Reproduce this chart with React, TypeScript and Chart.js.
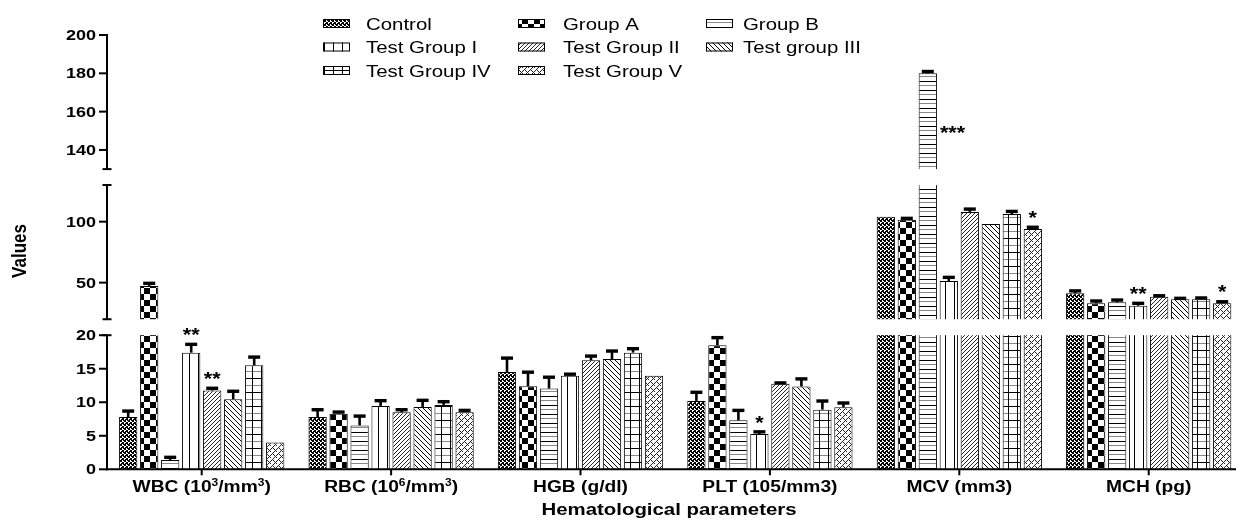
import React, { useEffect, useRef } from 'react';
import { Chart, LinearScale, registerables } from 'chart.js';

Chart.register(...registerables);

// ---------------- data ----------------
const categories = ['WBC (10^3/mm^3)', 'RBC (10^6/mm^3)', 'HGB (g/dl)', 'PLT (105/mm3)', 'MCV (mm3)', 'MCH (pg)'];
const seriesNames = ['Control', 'Group A', 'Group B', 'Test Group I', 'Test Group II', 'Test group III', 'Test Group IV', 'Test Group V'];

const controlValues = [7.8, 7.8, 14.5, 10.2, 104, 41.3];
const controlErrors = [0.9, 1.1, 2.1, 1.3, 0, 2.0];
const groupAValues = [47.3, 8.3, 12.4, 18.5, 101.5, 33.1];
const groupAErrors = [2.2, 0.25, 2.1, 1.15, 1.3, 1.9];
const groupBValues = [1.4, 6.55, 12.05, 7.3, 180, 33.9];
const groupBErrors = [0.4, 1.4, 1.7, 1.5, 1.0, 1.9];
const testGroup1Values = [17.4, 9.45, 13.95, 5.25, 51.4, 31.1];
const testGroup1Errors = [1.25, 0.8, 0.25, 0.35, 3.0, 2.0];
const testGroup2Values = [11.75, 8.5, 16.25, 12.75, 108, 38.5];
const testGroup2Errors = [0.35, 0.4, 0.65, 0.15, 2.4, 0.8];
const testGroup3Values = [10.45, 9.3, 16.45, 12.35, 98, 36.4];
const testGroup3Errors = [1.2, 1.0, 1.2, 1.15, 0, 0.8];
const testGroup4Values = [15.5, 9.6, 17.4, 8.9, 106.3, 36.4];
const testGroup4Errors = [1.25, 0.5, 0.6, 1.3, 2.2, 1.1];
const testGroup5Values = [4.0, 8.5, 13.95, 9.25, 94, 33.1];
const testGroup5Errors = [0, 0.3, 0, 0.65, 1.5, 1.3];

// significance marks: series index, category index, mark
const significance = [
  { series: 3, category: 0, mark: '**' },
  { series: 4, category: 0, mark: '**' },
  { series: 3, category: 3, mark: '*' },
  { series: 2, category: 4, mark: '***' },
  { series: 7, category: 4, mark: '*' },
  { series: 3, category: 5, mark: '**' },
  { series: 7, category: 5, mark: '*' },
];

// broken y axis: segments [0,20], [20,130], [130,200]
const yBreaks = [0, 20, 130, 200];
const yTickValues = [0, 5, 10, 15, 20, 50, 100, 140, 160, 180, 200];

const xTitle = 'Hematological parameters';
const yTitle = 'Values';

// ---------------- style ----------------
const SEG_GAP = 16;
const FONT = '"Liberation Sans", Arial, Helvetica, sans-serif';
const SX = 1.2; // horizontal text stretch of the original figure

const seriesValues = [controlValues, groupAValues, groupBValues, testGroup1Values, testGroup2Values, testGroup3Values, testGroup4Values, testGroup5Values];
const seriesErrors = [controlErrors, groupAErrors, groupBErrors, testGroup1Errors, testGroup2Errors, testGroup3Errors, testGroup4Errors, testGroup5Errors];

function segGeom(scale: any) {
  const n = yBreaks.length - 1;
  const h = (scale.bottom - scale.top - SEG_GAP * (n - 1)) / n;
  return { n, h };
}

class BrokenLinearScale extends LinearScale {
  static id = 'brokenLinear';
  static defaults = LinearScale.defaults;
  getPixelForValue(value: number): number {
    if (value === null || value === undefined || isNaN(value)) return NaN;
    const { n, h } = segGeom(this);
    let i = 0;
    while (i < n - 1 && value > yBreaks[i + 1]) i++;
    const lo = yBreaks[i];
    const hi = yBreaks[i + 1];
    return (this as any).bottom - i * (h + SEG_GAP) - ((value - lo) / (hi - lo)) * h;
  }
  getValueForPixel(pixel: number): number {
    const { n, h } = segGeom(this);
    const fromBottom = (this as any).bottom - pixel;
    let i = Math.floor(fromBottom / (h + SEG_GAP));
    i = Math.max(0, Math.min(n - 1, i));
    const t = (fromBottom - i * (h + SEG_GAP)) / h;
    return yBreaks[i] + t * (yBreaks[i + 1] - yBreaks[i]);
  }
}
Chart.register(BrokenLinearScale);

function makePattern(target: CanvasRenderingContext2D, w: number, h: number, draw: (c: CanvasRenderingContext2D) => void) {
  const c = document.createElement('canvas');
  c.width = w;
  c.height = h;
  const x = c.getContext('2d')!;
  x.fillStyle = '#fff';
  x.fillRect(0, 0, w, h);
  x.fillStyle = '#000';
  draw(x);
  return target.createPattern(c, 'repeat')!;
}

function buildPatterns(ctx: CanvasRenderingContext2D) {
  const px = (c: CanvasRenderingContext2D, pts: number[][], color = '#000') => {
    c.fillStyle = color;
    pts.forEach(([a, b]) => c.fillRect(a, b, 1, 1));
  };
  return [
    // Control: fine dense check
    makePattern(ctx, 4, 4, (c) => {
      c.fillRect(0, 0, 2, 2);
      c.fillRect(2, 2, 2, 2);
      c.fillRect(3, 0, 1, 1);
      c.fillRect(1, 3, 1, 1);
    }),
    // Group A: large checker
    makePattern(ctx, 12, 12, (c) => {
      c.fillRect(0, 0, 6, 6);
      c.fillRect(6, 6, 6, 6);
    }),
    // Group B: horizontal lines
    makePattern(ctx, 4, 9, (c) => {
      c.fillStyle = '#000';
      c.fillRect(0, 0, 4, 1);
      c.fillStyle = '#888';
      c.fillRect(0, 4, 4, 1);
    }),
    // Test Group I: vertical lines
    makePattern(ctx, 9, 4, (c) => {
      c.fillRect(0, 0, 1, 4);
    }),
    // Test Group II: "/" diagonal
    makePattern(ctx, 4, 4, (c) => px(c, [[3, 0], [2, 1], [1, 2], [0, 3]], '#222')),
    // Test group III: "\" diagonal
    makePattern(ctx, 5, 5, (c) => px(c, [[0, 0], [1, 1], [2, 2], [3, 3], [4, 4]])),
    // Test Group IV: grid
    makePattern(ctx, 9, 14, (c) => {
      c.fillStyle = '#000';
      c.fillRect(0, 0, 1, 14);
      c.fillRect(0, 0, 9, 1);
      c.fillStyle = '#888';
      c.fillRect(1, 7, 8, 1);
    }),
    // Test Group V: zig-zag cross hatch
    makePattern(ctx, 6, 6, (c) => px(c, [[5, 0], [4, 1], [3, 2], [2, 3], [1, 4], [0, 5], [3, 4], [4, 5], [0, 1]], '#222')),
  ];
}

function drawRich(ctx: CanvasRenderingContext2D, text: string, x: number, y: number, size: number, weight: string, align: 'left' | 'center' | 'right', sx = SX) {
  const parts: { t: string; sup: boolean }[] = [];
  let buf = '';
  for (let i = 0; i < text.length; i++) {
    if (text[i] === '^' && i + 1 < text.length) {
      if (buf) parts.push({ t: buf, sup: false });
      buf = '';
      parts.push({ t: text[i + 1], sup: true });
      i++;
    } else buf += text[i];
  }
  if (buf) parts.push({ t: buf, sup: false });
  const supSize = Math.round(size * 0.65);
  const font = (s: number) => `${weight} ${s}px ${FONT}`;
  let W = 0;
  const widths = parts.map((p) => {
    ctx.font = font(p.sup ? supSize : size);
    const w = ctx.measureText(p.t).width;
    W += w;
    return w;
  });
  ctx.save();
  ctx.translate(x, y);
  ctx.scale(sx, 1);
  ctx.textAlign = 'left';
  let cx = align === 'center' ? -W / 2 : align === 'right' ? -W : 0;
  parts.forEach((p, k) => {
    ctx.font = font(p.sup ? supSize : size);
    ctx.fillText(p.t, cx, p.sup ? -size * 0.4 : 0);
    cx += widths[k];
  });
  ctx.restore();
}

const LEGEND_COL_X = [323, 518, 706];
const LEGEND_TEXT_X = [366, 563, 743];
const LEGEND_ROW_BASE = [29.5, 53, 76.5];

function makeDecorPlugin(patterns: CanvasPattern[]) {
  return {
    id: 'decor',
    afterDatasetsDraw(chart: any) {
      const ctx: CanvasRenderingContext2D = chart.ctx;
      const ys = chart.scales.y;
      const area = chart.chartArea;
      const { n, h } = segGeom(ys);
      ctx.save();
      // white gaps of the broken axis
      ctx.fillStyle = '#fff';
      for (let i = 0; i < n - 1; i++) {
        const lowerTop = ys.bottom - (i + 1) * h - i * SEG_GAP;
        ctx.fillRect(area.left - 20, lowerTop - SEG_GAP, area.right - area.left + 60, SEG_GAP);
      }
      // error bars (upper only)
      ctx.fillStyle = '#000';
      ctx.strokeStyle = '#000';
      ctx.lineCap = 'butt';
      seriesValues.forEach((vals, di) => {
        const meta = chart.getDatasetMeta(di);
        meta.data.forEach((bar: any, j: number) => {
          const err = seriesErrors[di][j];
          if (!err) return;
          const yCap = ys.getPixelForValue(vals[j] + err);
          ctx.lineWidth = 2.6;
          ctx.beginPath();
          ctx.moveTo(bar.x, bar.y);
          ctx.lineTo(bar.x, yCap);
          ctx.stroke();
          ctx.fillRect(bar.x - 6, yCap - 1.6, 12, 3.4);
        });
      });
      // significance marks
      const starSize = 18;
      ctx.textBaseline = 'alphabetic';
      const topBreak = yBreaks[n - 1];
      significance.forEach((s) => {
        const bar: any = chart.getDatasetMeta(s.series).data[s.category];
        const v = seriesValues[s.series][s.category];
        const yCap = ys.getPixelForValue(v + (seriesErrors[s.series][s.category] || 0));
        if (v > topBreak) {
          const cy = (ys.getPixelForValue(topBreak) + yCap) / 2;
          drawRich(ctx, s.mark, bar.x + bar.width / 2 + 3, cy + starSize * 0.6, starSize, 'bold', 'left');
        } else {
          const cy = yCap - 14;
          drawRich(ctx, s.mark, bar.x, cy + starSize * 0.6, starSize, 'bold', 'center');
        }
      });
      ctx.restore();
    },
    afterDraw(chart: any) {
      const ctx: CanvasRenderingContext2D = chart.ctx;
      const ys = chart.scales.y;
      const xs = chart.scales.x;
      const area = chart.chartArea;
      const { n, h } = segGeom(ys);
      const x0 = area.left;
      ctx.save();
      ctx.strokeStyle = '#000';
      ctx.fillStyle = '#000';
      ctx.lineWidth = 2;
      ctx.lineCap = 'butt';
      // y axis segments with break caps
      for (let i = 0; i < n; i++) {
        const segBottom = ys.bottom - i * (h + SEG_GAP);
        const segTop = segBottom - h;
        ctx.beginPath();
        ctx.moveTo(x0, segBottom + (i === 0 ? 1 : 0));
        ctx.lineTo(x0, segTop - (i === n - 1 ? 1 : 0));
        ctx.stroke();
        ctx.beginPath();
        if (i > 0) {
          ctx.moveTo(x0 - 4.5, segBottom);
          ctx.lineTo(x0 + 4.5, segBottom);
        }
        if (i < n - 1) {
          ctx.moveTo(x0 - 4.5, segTop);
          ctx.lineTo(x0 + 4.5, segTop);
        }
        ctx.stroke();
      }
      // y ticks and labels
      ctx.textBaseline = 'middle';
      yTickValues.forEach((v) => {
        const py = ys.getPixelForValue(v);
        ctx.beginPath();
        ctx.moveTo(x0 - 8, py);
        ctx.lineTo(x0, py);
        ctx.stroke();
        drawRich(ctx, String(v), x0 - 11, py + 1, 15, 'bold', 'right');
      });
      // x axis
      ctx.beginPath();
      ctx.moveTo(x0 - 1, area.bottom);
      ctx.lineTo(area.right + 10, area.bottom);
      ctx.stroke();
      ctx.textBaseline = 'alphabetic';
      categories.forEach((label, i) => {
        const px = xs.getPixelForValue(i);
        ctx.beginPath();
        ctx.moveTo(px, area.bottom);
        ctx.lineTo(px, area.bottom + 6);
        ctx.stroke();
        drawRich(ctx, label, px, 492, 16, 'bold', 'center');
      });
      // axis titles
      drawRich(ctx, xTitle, 669, 515, 17, 'bold', 'center');
      ctx.save();
      ctx.translate(20.5, 251);
      ctx.scale(SX, 1);
      ctx.rotate(-Math.PI / 2);
      ctx.textBaseline = 'middle';
      drawRich(ctx, yTitle, 0, 0, 17, 'bold', 'center', 1);
      ctx.restore();
      // legend
      ctx.textBaseline = 'alphabetic';
      seriesNames.forEach((name, i) => {
        const col = i % 3;
        const row = Math.floor(i / 3);
        const bx = LEGEND_COL_X[col];
        const base = LEGEND_ROW_BASE[row];
        const by = base - 10.5;
        ctx.fillStyle = patterns[i];
        ctx.fillRect(bx, by, 27, 9);
        ctx.lineWidth = 1;
        ctx.strokeStyle = '#000';
        ctx.strokeRect(bx + 0.5, by + 0.5, 26, 8);
        ctx.fillStyle = '#000';
        drawRich(ctx, name, LEGEND_TEXT_X[col], base, 17, 'normal', 'left');
      });
      ctx.restore();
    },
  };
}

export default function App() {
  const ref = useRef<HTMLCanvasElement>(null);
  useEffect(() => {
    const canvas = ref.current!;
    const ctx = canvas.getContext('2d')!;
    const patterns = buildPatterns(ctx);
    const chart = new Chart(canvas, {
      type: 'bar',
      data: {
        labels: categories,
        datasets: seriesNames.map((name, i) => ({
          label: name,
          data: seriesValues[i],
          backgroundColor: patterns[i],
          borderColor: '#000',
          borderWidth: 1,
          categoryPercentage: 0.887,
          barPercentage: 0.87,
        })),
      },
      options: {
        responsive: false,
        animation: false,
        devicePixelRatio: 1,
        layout: { padding: { left: 107, right: 6.6, top: 35, bottom: 50.7 } },
        scales: {
          x: { display: false, offset: true },
          y: { type: 'brokenLinear' as any, display: false, min: 0, max: 200 },
        },
        plugins: { legend: { display: false }, tooltip: { enabled: false } },
      } as any,
      plugins: [makeDecorPlugin(patterns)],
    });
    return () => chart.destroy();
  }, []);
  return (
    <div style={{ position: 'fixed', left: 0, top: 0, width: 1236, height: 520, overflow: 'hidden', background: '#fff' }}>
      <canvas ref={ref} width={1250} height={520} style={{ display: 'block' }} />
    </div>
  );
}
